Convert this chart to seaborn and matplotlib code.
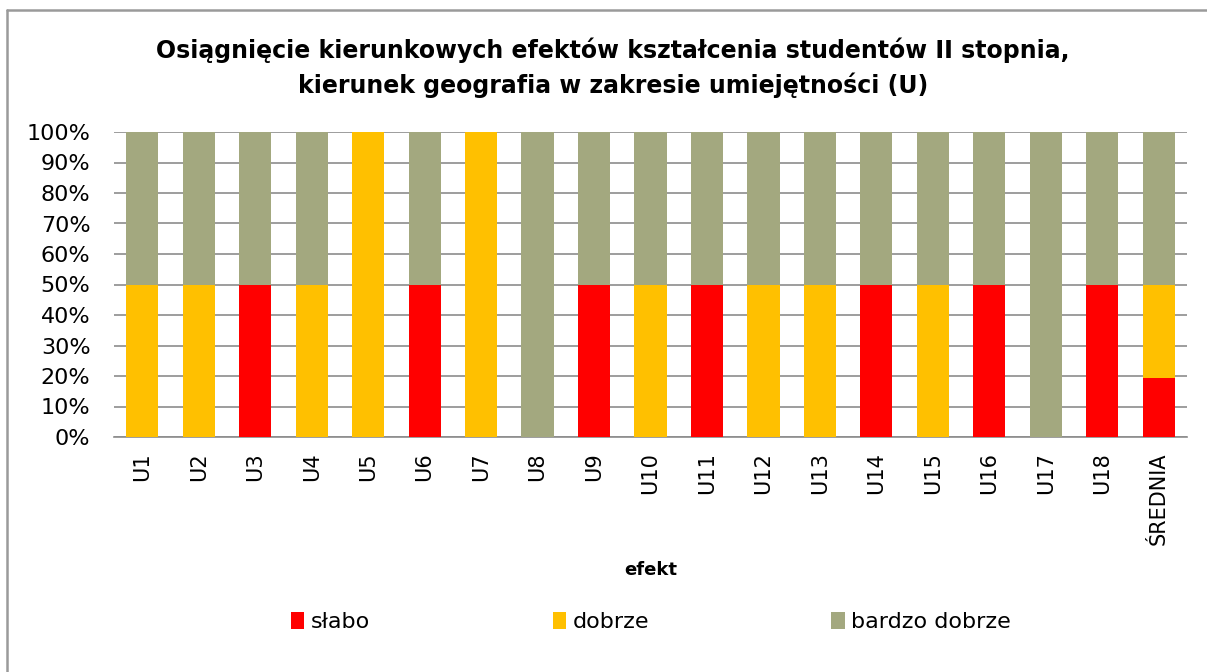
import pandas as pd
import numpy as np
import seaborn as sns
import matplotlib.pyplot as plt
from matplotlib.lines import Line2D
from matplotlib.patches import Patch

efekty = ["U1", "U2", "U3", "U4", "U5", "U6", "U7", "U8", "U9", "U10",
          "U11", "U12", "U13", "U14", "U15", "U16", "U17", "U18", "ŚREDNIA"]
slabo = [0, 0, 50, 0, 0, 50, 0, 0, 50, 0, 50, 0, 0, 50, 0, 50, 0, 50, 19.4]
dobrze = [50, 50, 0, 50, 100, 0, 100, 0, 0, 50, 0, 50, 50, 0, 50, 0, 0, 0, 30.6]
bardzo_dobrze = [50, 50, 50, 50, 0, 50, 0, 100, 50, 50, 50, 50, 50, 50, 50, 50, 100, 50, 50]

serie = ["słabo", "dobrze", "bardzo dobrze"]
kolory = ["#FF0000", "#FFC000", "#A3A87F"]
tytul = ["Osiągnięcie kierunkowych efektów kształcenia studentów II stopnia,",
         "kierunek geografia w zakresie umiejętności (U)"]

df = pd.DataFrame({"efekt": efekty, "słabo": slabo, "dobrze": dobrze,
                   "bardzo dobrze": bardzo_dobrze})
# cumulative tops, drawn from the tallest down so the lower layers sit on top
cum = df[serie].cumsum(axis=1)

sns.set_style("white")
plt.rcParams["font.family"] = ["DejaVu Sans"]
plt.rcParams["text.color"] = "black"
plt.rcParams["xtick.color"] = "black"
plt.rcParams["ytick.color"] = "black"
plt.rcParams["axes.labelcolor"] = "black"

W, H = 1207, 672
fig = plt.figure(figsize=(W / 100, H / 100), dpi=100)
ax = fig.add_axes([114 / W, 1 - 437 / H, (1187 - 114) / W, (437 - 132) / H])

for s, c in zip(serie[::-1], kolory[::-1]):
    sns.barplot(x=df["efekt"], y=cum[s], color=c, width=0.57, saturation=1,
                ax=ax, zorder=3, linewidth=0)

ax.set_ylim(0, 100)
ax.set_xlim(-0.5, len(efekty) - 0.5)
ax.set_yticks(np.arange(0, 101, 10))
ax.set_yticklabels([f"{v}%" for v in range(0, 101, 10)])
ax.yaxis.grid(True, color="#8C8C8C", linewidth=1.2, zorder=0)
ax.set_axisbelow(True)
for sp in ["left", "right", "top"]:
    ax.spines[sp].set_visible(False)
ax.spines["bottom"].set_color("#8C8C8C")
ax.spines["bottom"].set_linewidth(1.2)
ax.tick_params(axis="y", length=0, pad=17, labelsize=16)
ax.tick_params(axis="x", length=0, pad=11, labelsize=15, rotation=90)
ax.set_ylabel("")
ax.set_xlabel("efekt", fontsize=13, fontweight="bold", labelpad=12)

fig.text(0.508, 1 - 50 / H, tytul[0], ha="center", va="center", fontsize=17, fontweight="bold")
fig.text(0.508, 1 - 85 / H, tytul[1], ha="center", va="center", fontsize=17, fontweight="bold")

uchwyty = [Patch(facecolor=c, edgecolor="none") for c in kolory]
fig.legend(uchwyty, serie, loc="center", bbox_to_anchor=(651 / W, 1 - 622 / H), ncol=3,
           frameon=False, fontsize=16, handlelength=0.6, handleheight=0.8,
           handletextpad=0.3, columnspacing=8.2, borderpad=0)

# chart frame
fig.add_artist(Line2D([7 / W, 7 / W], [0, 1 - 10 / H], transform=fig.transFigure,
                      color="#9A9A9A", linewidth=1.8))
fig.add_artist(Line2D([7 / W, 1], [1 - 10 / H, 1 - 10 / H], transform=fig.transFigure,
                      color="#9A9A9A", linewidth=1.8))

fig.savefig("out.png", dpi=100)
